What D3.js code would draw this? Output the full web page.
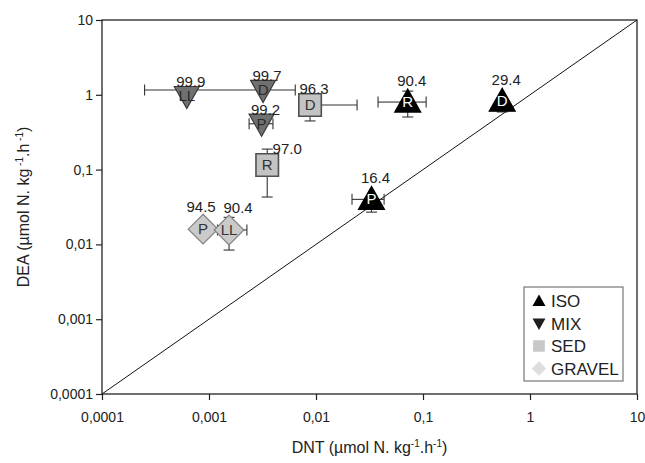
<!DOCTYPE html>
<html>
<head>
<meta charset="utf-8">
<script src="https://cdn.jsdelivr.net/npm/d3@7"></script>
<style>
    body { margin: 0; background: #ffffff; }
    svg { font-family: Arial, "Liberation Sans", sans-serif; }
</style>
</head>
<body>
<svg id="scatter"></svg>
<script>

// values (log-log, DNT vs DEA)
let groups = ["ISO", "MIX", "SED", "GRAVEL"];
let pointGroups = ["ISO", "ISO", "ISO", "MIX", "MIX", "MIX", "SED", "SED", "GRAVEL", "GRAVEL"];
let siteCodes = ["R", "D", "P", "LL", "D", "P", "D", "R", "P", "LL"];
let percentLabels = ["90.4", "29.4", "16.4", "99.9", "99.7", "99.2", "96.3", "97.0", "94.5", "90.4"];
let dntValues = [0.072, 0.55, 0.033, 0.00062, 0.0032, 0.0031, 0.0088, 0.0035, 0.00088, 0.00154];
let deaValues = [0.80, 0.82, 0.040, 0.96, 1.16, 0.41, 0.73, 0.115, 0.016, 0.0156];
let dntLow = [0.038, null, 0.0217, null, 0.00025, 0.00237, 0.0075, null, null, 0.0012];
let dntHigh = [0.107, null, 0.0433, null, 0.0064, 0.00396, 0.0242, null, null, 0.00226];
let deaLow = [0.505, 0.59, 0.027, null, null, null, 0.447, 0.043, null, 0.0084];
let deaHigh = [1.12, null, null, null, null, null, null, 0.188, null, 0.023];
let tickValues = [0.0001, 0.001, 0.01, 0.1, 1, 10];
let tickLabels = ["0,0001", "0,001", "0,01", "0,1", "1", "10"];

class RatioChart {

    constructor () {

        this.width = 645;
        this.height = 463;
        this.margin = {top: 20, right: 8, bottom: 69, left: 102};

        this.svg = d3.select("#scatter")
            .attr("width", this.width)
            .attr("height", this.height);

        this.xScale = d3.scaleLog()
            .domain([0.0001, 10])
            .range([this.margin.left, this.width - this.margin.right]);

        this.yScale = d3.scaleLog()
            .domain([0.0001, 10])
            .range([this.height - this.margin.bottom, this.margin.top]);

        // marker styles per group
        this.styles = {
            ISO:    {fill: "#000000", stroke: "#000000", text: "#ffffff", legend: "#000000", labelDy: -16},
            MIX:    {fill: "#707070", stroke: "#3c3c3c", text: "#2a2a2a", legend: "#1e1e1e", labelDy: -9},
            SED:    {fill: "#c3c3c3", stroke: "#505050", text: "#333333", legend: "#c8c8c8", labelDy: -11},
            GRAVEL: {fill: "#cacaca", stroke: "#808080", text: "#333333", legend: "#dedede", labelDy: -17}
        };
        // a few labels sit off centre in the original
        this.labelDx = {7: 20, 8: -2, 9: 9};

        this.drawAxes();
        this.drawPoints();
        this.drawLegend();
    };

    shape(group, cx, cy, s) {
        if (group === "ISO") {
            return "M" + cx + "," + (cy - s * 1.0) + "L" + (cx + s) + "," + (cy + s * 0.77) + "L" + (cx - s) + "," + (cy + s * 0.77) + "Z";
        }
        if (group === "MIX") {
            return "M" + (cx - s) + "," + (cy - s * 0.77) + "L" + (cx + s) + "," + (cy - s * 0.77) + "L" + cx + "," + (cy + s * 1.0) + "Z";
        }
        if (group === "SED") {
            return "M" + (cx - s * 0.9) + "," + (cy - s * 0.9) + "h" + (s * 1.8) + "v" + (s * 1.8) + "h" + (-s * 1.8) + "Z";
        }
        return "M" + cx + "," + (cy - s * 1.1) + "L" + (cx + s * 1.1) + "," + cy + "L" + cx + "," + (cy + s * 1.1) + "L" + (cx - s * 1.1) + "," + cy + "Z";
    }

    drawAxes() {

        let that = this;
        let x0 = this.xScale.range()[0], x1 = this.xScale.range()[1];
        let y0 = this.yScale.range()[0], y1 = this.yScale.range()[1];

        let xAxis = d3.axisBottom(this.xScale)
            .tickValues(tickValues)
            .tickFormat((d, i) => tickLabels[i])
            .tickSize(6).tickPadding(12);

        let xAxisG = this.svg.append("g")
            .attr("transform", "translate(0," + y0 + ")")
            .call(xAxis);

        let yAxis = d3.axisLeft(this.yScale)
            .tickValues(tickValues)
            .tickFormat((d, i) => tickLabels[i])
            .tickSize(6).tickPadding(3);

        let yAxisG = this.svg.append("g")
            .attr("transform", "translate(" + x0 + ",0)")
            .call(yAxis);

        [xAxisG, yAxisG].forEach(function(g){
            g.select(".domain").remove();
            g.selectAll(".tick line").attr("stroke", "#222").attr("stroke-width", 1.2);
            g.selectAll(".tick text").attr("fill", "#222").style("font-size", "14px");
        });

        //plot frame
        this.svg.append("rect")
            .attr("x", x0).attr("y", y1)
            .attr("width", x1 - x0).attr("height", y0 - y1)
            .attr("fill", "none")
            .attr("stroke", "#222")
            .attr("stroke-width", 1.3);

        // 1:1 line
        this.svg.append("line")
            .attr("x1", that.xScale(0.0001)).attr("y1", that.yScale(0.0001))
            .attr("x2", that.xScale(10)).attr("y2", that.yScale(10))
            .attr("stroke", "#111")
            .attr("stroke-width", 1);

        let xTitle = this.svg.append("text")
            .attr("x", (x0 + x1) / 2)
            .attr("y", 453)
            .attr("text-anchor", "middle")
            .style("font-size", "16px")
            .attr("fill", "#222");
        xTitle.append("tspan").text("DNT (µmol N. kg");
        xTitle.append("tspan").attr("dy", -6).style("font-size", "10px").text("-1");
        xTitle.append("tspan").attr("dy", 6).text(".h");
        xTitle.append("tspan").attr("dy", -6).style("font-size", "10px").text("-1");
        xTitle.append("tspan").attr("dy", 6).text(")");

        let yTitle = this.svg.append("text")
            .attr("transform", "translate(29," + ((y0 + y1) / 2) + ") rotate(-90)")
            .attr("text-anchor", "middle")
            .style("font-size", "16px")
            .attr("fill", "#222");
        yTitle.append("tspan").text("DEA (µmol N. kg");
        yTitle.append("tspan").attr("dy", -6).style("font-size", "10px").text(" -1");
        yTitle.append("tspan").attr("dy", 6).text(".h");
        yTitle.append("tspan").attr("dy", -6).style("font-size", "10px").text(" -1");
        yTitle.append("tspan").attr("dy", 6).text(")");
    }

    drawPoints() {

        let that = this;
        let cap = 5.5;
        let bars = this.svg.append("g").attr("stroke", "#333").attr("stroke-width", 1.1);

        //error bars go behind the markers
        dntValues.forEach(function(d, i){
            let px = that.xScale(d), py = that.yScale(deaValues[i]);
            if (dntLow[i] !== null) {
                let lx = that.xScale(dntLow[i]);
                bars.append("line").attr("x1", lx).attr("x2", px).attr("y1", py).attr("y2", py);
                bars.append("line").attr("x1", lx).attr("x2", lx).attr("y1", py - cap).attr("y2", py + cap);
            }
            if (dntHigh[i] !== null) {
                let hx = that.xScale(dntHigh[i]);
                bars.append("line").attr("x1", px).attr("x2", hx).attr("y1", py).attr("y2", py);
                bars.append("line").attr("x1", hx).attr("x2", hx).attr("y1", py - cap).attr("y2", py + cap);
            }
            if (deaLow[i] !== null) {
                let ly = that.yScale(deaLow[i]);
                bars.append("line").attr("x1", px).attr("x2", px).attr("y1", py).attr("y2", ly);
                bars.append("line").attr("x1", px - cap).attr("x2", px + cap).attr("y1", ly).attr("y2", ly);
            }
            if (deaHigh[i] !== null) {
                let hy = that.yScale(deaHigh[i]);
                bars.append("line").attr("x1", px).attr("x2", px).attr("y1", py).attr("y2", hy);
                bars.append("line").attr("x1", px - cap).attr("x2", px + cap).attr("y1", hy).attr("y2", hy);
            }
        });

        let sizes = {ISO: 13, MIX: 12.5, SED: 12.5, GRAVEL: 13.5};

        dntValues.forEach(function(d, i){
            let g = pointGroups[i];
            let st = that.styles[g];
            let px = that.xScale(d), py = that.yScale(deaValues[i]);

            that.svg.append("path")
                .attr("d", that.shape(g, px, py, sizes[g]))
                .attr("fill", st.fill)
                .attr("stroke", st.stroke)
                .attr("stroke-width", g === "SED" ? 1.6 : 1.2);

            that.svg.append("text")
                .attr("x", px)
                .attr("y", py + 5)
                .attr("text-anchor", "middle")
                .style("font-size", "15px")
                .attr("fill", st.text)
                .text(siteCodes[i]);

            let dx = that.labelDx[i] !== undefined ? that.labelDx[i] : 4;
            that.svg.append("text")
                .attr("x", px + dx)
                .attr("y", py + st.labelDy)
                .attr("text-anchor", "middle")
                .style("font-size", "15px")
                .attr("fill", "#222")
                .text(percentLabels[i]);
        });
    }

    drawLegend() {

        let that = this;
        let legend = this.svg.append("g").attr("transform", "translate(524,287)");

        legend.append("rect")
            .attr("width", 99).attr("height", 94)
            .attr("fill", "#fff")
            .attr("stroke", "#777")
            .attr("stroke-width", 1.2);

        groups.forEach(function(g, i){
            let cy = 14 + i * 22.5;
            legend.append("path")
                .attr("d", that.shape(g, 15, cy, 6.5))
                .attr("fill", that.styles[g].legend);
            legend.append("text")
                .attr("x", 27)
                .attr("y", cy + 6)
                .style("font-size", "17px")
                .attr("fill", "#222")
                .text(g);
        });
    }
}

new RatioChart();
</script>
</body>
</html>
